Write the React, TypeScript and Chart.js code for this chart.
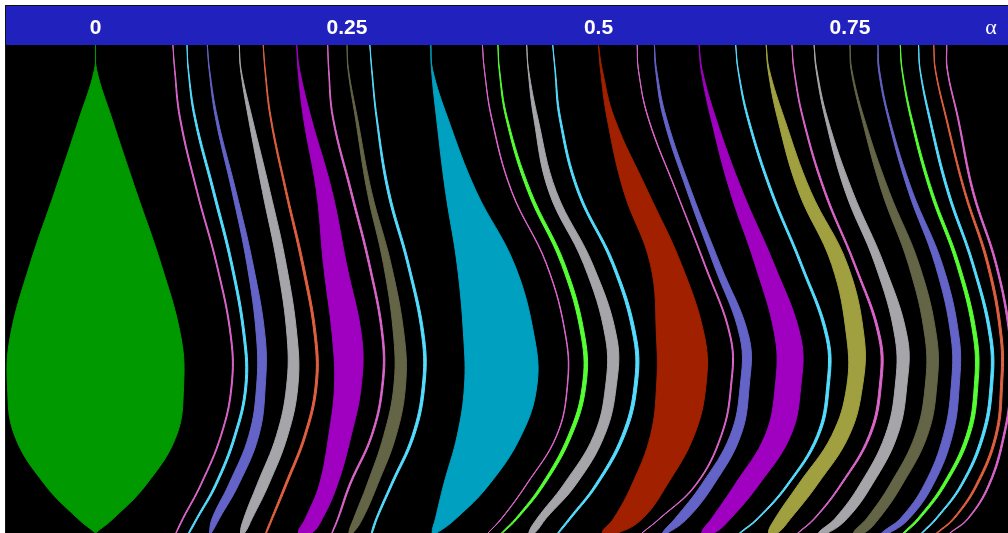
import { useEffect, useRef } from 'react';
import { Chart, registerables } from 'chart.js';

Chart.register(...registerables);

// Coupling levels (top of the plot = 0, bottom = 1) at which each tongue edge was sampled.
const K_LEVELS = [0, 0.05, 0.15, 0.3, 0.45, 0.6, 0.7, 0.8, 0.9, 0.97, 1];

// Frequency-axis ticks and the axis symbol shown at the right end of the top bar.
const TICK_VALUES = [0, 0.25, 0.5, 0.75];
const AXIS_LABEL = 'α';
const AXIS_LABEL_AT = 0.8902;
const X_MIN = -0.089;
const X_MAX = 0.9071;

// Mode-locked tongues, one row per rational winding number.
const TONGUE_NAMES = [
  '0', '1/13', '1/11', '1/9', '1/7', '1/6', '1/5', '3/13', '1/4', '3/11',
  '1/3', '5/13', '2/5', '3/7', '5/11', '1/2', '7/13', '5/9', '3/5', '7/11',
  '2/3', '9/13', '5/7', '3/4', '7/9', '4/5', '9/11', '5/6', '11/13',
];

const PINK = '#DD66CC';
const CYAN = '#55DDFF';
const BLUE = '#6464C8';
const GRAY = '#A5A5AA';
const ORANGE = '#E06040';
const MAGENTA = '#A000C0';
const OLIVE = '#646446';
const LIME = '#55FF33';

const TONGUE_COLORS = [
  '#009A00', PINK, CYAN, BLUE, GRAY, ORANGE, MAGENTA, PINK, OLIVE, CYAN,
  '#00A0C0', PINK, LIME, GRAY, CYAN, '#A02000', PINK, BLUE, MAGENTA, CYAN,
  '#A0A040', PINK, GRAY, OLIVE, BLUE, LIME, CYAN, ORANGE, PINK,
];

// Centre of each tongue (α) at every K level.
const TONGUE_MID = [
  [0, 0, 0, 0, 0, 0, 0, 0, 0, 0, 0],
  [0.0769, 0.0787, 0.0840, 0.1009, 0.1205, 0.1347, 0.1352, 0.1248, 0.1049, 0.0870, 0.0800],
  [0.0909, 0.0922, 0.0989, 0.1173, 0.1354, 0.1480, 0.1494, 0.1387, 0.1198, 0.1009, 0.0929],
  [0.1111, 0.1131, 0.1203, 0.1377, 0.1536, 0.1644, 0.1644, 0.1574, 0.1375, 0.1196, 0.1142],
  [0.1429, 0.1444, 0.1539, 0.1697, 0.1851, 0.1955, 0.1955, 0.1855, 0.1665, 0.1516, 0.1461],
  [0.1667, 0.1685, 0.1742, 0.1894, 0.2060, 0.2187, 0.2192, 0.2083, 0.1894, 0.1755, 0.1695],
  [0.2000, 0.2020, 0.2106, 0.2274, 0.2381, 0.2501, 0.2508, 0.2430, 0.2316, 0.2172, 0.2083],
  [0.2308, 0.2318, 0.2361, 0.2540, 0.2722, 0.2855, 0.2851, 0.2746, 0.2530, 0.2411, 0.2351],
  [0.2500, 0.2512, 0.2594, 0.2722, 0.2901, 0.3018, 0.3023, 0.2927, 0.2753, 0.2612, 0.2538],
  [0.2727, 0.2746, 0.2795, 0.2911, 0.3109, 0.3258, 0.3260, 0.3159, 0.2944, 0.2795, 0.2746],
  [0.3333, 0.3345, 0.3446, 0.3632, 0.3880, 0.4012, 0.4027, 0.3914, 0.3689, 0.3483, 0.3368],
  [0.3846, 0.3865, 0.3938, 0.4137, 0.4485, 0.4677, 0.4690, 0.4585, 0.4286, 0.4038, 0.3902],
  [0.4000, 0.4014, 0.4087, 0.4312, 0.4650, 0.4849, 0.4856, 0.4717, 0.4451, 0.4187, 0.4041],
  [0.4286, 0.4302, 0.4377, 0.4543, 0.4899, 0.5126, 0.5123, 0.5007, 0.4717, 0.4435, 0.4336],
  [0.4545, 0.4568, 0.4617, 0.4799, 0.5147, 0.5363, 0.5368, 0.5247, 0.4982, 0.4717, 0.4600],
  [0.5000, 0.5028, 0.5122, 0.5371, 0.5671, 0.5817, 0.5822, 0.5734, 0.5510, 0.5296, 0.5113],
  [0.5385, 0.5396, 0.5495, 0.5773, 0.6056, 0.6314, 0.6317, 0.6221, 0.5972, 0.5611, 0.5432],
  [0.5556, 0.5572, 0.5661, 0.5903, 0.6178, 0.6453, 0.6453, 0.6362, 0.6088, 0.5824, 0.5661],
  [0.6000, 0.6024, 0.6142, 0.6370, 0.6652, 0.6884, 0.6884, 0.6784, 0.6478, 0.6221, 0.6088],
  [0.6364, 0.6387, 0.6486, 0.6718, 0.7016, 0.7274, 0.7281, 0.7182, 0.6884, 0.6586, 0.6406],
  [0.6667, 0.6691, 0.6813, 0.7049, 0.7397, 0.7555, 0.7546, 0.7406, 0.7083, 0.6834, 0.6735],
  [0.6923, 0.6943, 0.7033, 0.7249, 0.7547, 0.7795, 0.7801, 0.7696, 0.7413, 0.7149, 0.6983],
  [0.7143, 0.7166, 0.7265, 0.7489, 0.7795, 0.8010, 0.8007, 0.7911, 0.7662, 0.7414, 0.7232],
  [0.7500, 0.7514, 0.7629, 0.7853, 0.8135, 0.8305, 0.8305, 0.8209, 0.7961, 0.7729, 0.7588],
  [0.7778, 0.7788, 0.7885, 0.8101, 0.8383, 0.8546, 0.8546, 0.8474, 0.8285, 0.8047, 0.7853],
  [0.8000, 0.8017, 0.8109, 0.8308, 0.8574, 0.8746, 0.8753, 0.8673, 0.8439, 0.8186, 0.8037],
  [0.8182, 0.8196, 0.8292, 0.8474, 0.8723, 0.8899, 0.8905, 0.8822, 0.8613, 0.8360, 0.8216],
  [0.8333, 0.8348, 0.8457, 0.8640, 0.8872, 0.9004, 0.9006, 0.8952, 0.8763, 0.8534, 0.8365],
  [0.8462, 0.8467, 0.8574, 0.8723, 0.8954, 0.9091, 0.9100, 0.9031, 0.8885, 0.8676, 0.8494],
];

// Width of each tongue (α) at every K level.
const TONGUE_WIDTH = [
  [0, 0.003, 0.0333, 0.0818, 0.1315, 0.171, 0.176, 0.162, 0.1024, 0.0368, 0],
  [0.001, 0.0015, 0.002, 0.002, 0.002, 0.002, 0.002, 0.002, 0.002, 0.002, 0.0015],
  [0.001, 0.0015, 0.0025, 0.003, 0.003, 0.003, 0.003, 0.003, 0.003, 0.0025, 0.002],
  [0, 0.0015, 0.003, 0.005, 0.007, 0.0096, 0.0096, 0.0109, 0.0109, 0.0083, 0.0027],
  [0, 0.0015, 0.0047, 0.0085, 0.0099, 0.0109, 0.0122, 0.0122, 0.0125, 0.0093, 0.005],
  [0.001, 0.0015, 0.002, 0.0025, 0.003, 0.003, 0.003, 0.003, 0.003, 0.0025, 0.002],
  [0, 0.0025, 0.0086, 0.0164, 0.0239, 0.0301, 0.0275, 0.0233, 0.0189, 0.0179, 0.0139],
  [0.001, 0.0015, 0.002, 0.0025, 0.0025, 0.0025, 0.0025, 0.0025, 0.0025, 0.002, 0.0015],
  [0, 0.0015, 0.003, 0.0053, 0.0086, 0.0116, 0.0126, 0.0133, 0.0115, 0.0099, 0.005],
  [0.001, 0.0015, 0.002, 0.003, 0.003, 0.0035, 0.0035, 0.0035, 0.003, 0.0025, 0.002],
  [0, 0.002, 0.0122, 0.0315, 0.058, 0.0713, 0.0729, 0.0646, 0.0464, 0.0216, 0.0053],
  [0.001, 0.001, 0.0015, 0.0015, 0.0015, 0.0015, 0.0015, 0.0015, 0.0015, 0.0015, 0.001],
  [0.001, 0.0015, 0.0025, 0.004, 0.0045, 0.0045, 0.0045, 0.0045, 0.004, 0.003, 0.002],
  [0, 0.0015, 0.005, 0.0084, 0.0099, 0.0122, 0.0116, 0.0116, 0.0133, 0.0099, 0.0067],
  [0.001, 0.0015, 0.0025, 0.003, 0.0035, 0.004, 0.004, 0.004, 0.0035, 0.003, 0.002],
  [0, 0.0027, 0.0083, 0.0249, 0.0318, 0.049, 0.05, 0.0444, 0.0361, 0.0298, 0.0162],
  [0.001, 0.001, 0.0015, 0.0015, 0.002, 0.002, 0.002, 0.002, 0.002, 0.0015, 0.001],
  [0, 0.002, 0.004, 0.0053, 0.0074, 0.0099, 0.0099, 0.0115, 0.0133, 0.0132, 0.006],
  [0, 0.002, 0.0058, 0.0132, 0.0199, 0.0264, 0.0264, 0.0264, 0.0249, 0.0199, 0.0133],
  [0.001, 0.0015, 0.0025, 0.003, 0.003, 0.0035, 0.0035, 0.0035, 0.003, 0.0025, 0.002],
  [0, 0.0022, 0.0077, 0.0132, 0.0166, 0.0183, 0.0166, 0.0183, 0.0199, 0.0165, 0.0099],
  [0.001, 0.0015, 0.002, 0.0025, 0.0025, 0.003, 0.003, 0.003, 0.0025, 0.002, 0.0015],
  [0, 0.0018, 0.0033, 0.0083, 0.0099, 0.0132, 0.0125, 0.0132, 0.0132, 0.0132, 0.0099],
  [0, 0.0018, 0.0034, 0.0083, 0.0116, 0.0125, 0.0125, 0.0132, 0.0132, 0.0133, 0.0116],
  [0, 0.002, 0.0025, 0.005, 0.0083, 0.0089, 0.0089, 0.0099, 0.0099, 0.0099, 0.0083],
  [0.001, 0.0015, 0.0025, 0.0035, 0.004, 0.0045, 0.0045, 0.0045, 0.004, 0.0035, 0.0025],
  [0.001, 0.0015, 0.0025, 0.003, 0.003, 0.0035, 0.0035, 0.0035, 0.003, 0.0025, 0.002],
  [0.001, 0.0015, 0.002, 0.0025, 0.003, 0.003, 0.003, 0.003, 0.003, 0.0025, 0.002],
  [0.001, 0.0015, 0.002, 0.0025, 0.0025, 0.0025, 0.0025, 0.0025, 0.0025, 0.002, 0.0015],
];

// The 1px outline stroked round every tongue adds about 0.001 in α to its width.
const OUTLINE = 0.001;
const BAR_COLOR = '#2121BE';

const backdrop = {
  id: 'backdrop',
  beforeDraw(chart: any) {
    const { ctx, chartArea, width, height } = chart;
    ctx.save();
    ctx.fillStyle = '#000';
    ctx.fillRect(0, 0, width, height);
    ctx.fillStyle = BAR_COLOR;
    ctx.fillRect(0, 0, width, chartArea.top);
    ctx.restore();
  },
};

export default function App() {
  const ref = useRef<HTMLCanvasElement>(null);

  useEffect(() => {
    const canvas = ref.current;
    if (!canvas) return;

    const datasets = TONGUE_NAMES.map((name, i) => {
      const mid = TONGUE_MID[i];
      const half = TONGUE_WIDTH[i].map((w) => Math.max(0, w - OUTLINE) / 2);
      const leftEdge = K_LEVELS.map((k, j) => ({ x: mid[j] - half[j], y: k }));
      const rightEdge = K_LEVELS.map((k, j) => ({ x: mid[j] + half[j], y: k })).reverse();
      const color = TONGUE_COLORS[i];
      return {
        label: name,
        data: [...leftEdge, ...rightEdge],
        borderColor: color,
        backgroundColor: color,
        borderWidth: 1,
        borderJoinStyle: 'round' as const,
        fill: 'shape' as const,
        pointRadius: 0,
        pointHoverRadius: 0,
        pointHitRadius: 0,
        tension: 0.4,
      };
    });

    const chart = new Chart(canvas, {
      type: 'line',
      data: { datasets },
      options: {
        responsive: false,
        animation: false,
        devicePixelRatio: 1,
        events: [],
        layout: { padding: 0 },
        plugins: {
          legend: { display: false },
          tooltip: { enabled: false },
        },
        scales: {
          x: {
            type: 'linear',
            position: 'top',
            min: X_MIN,
            max: X_MAX,
            grid: { display: false },
            border: { display: false },
            afterBuildTicks: (scale: any) => {
              scale.ticks = [...TICK_VALUES, AXIS_LABEL_AT].map((value) => ({ value }));
            },
            afterFit: (scale: any) => {
              scale.height = 39;
            },
            ticks: {
              autoSkip: false,
              maxRotation: 0,
              padding: -4,
              color: '#FFFFFF',
              font: (ctx: any) =>
                ctx.tick && ctx.tick.value === AXIS_LABEL_AT
                  ? { family: '"Liberation Serif", serif', size: 22 }
                  : { family: '"Liberation Sans", Arial, sans-serif', size: 21, weight: 'bold' },
              callback: (value: any) => (value === AXIS_LABEL_AT ? AXIS_LABEL : String(value)),
            },
          },
          y: {
            type: 'linear',
            display: false,
            min: 0,
            max: 1,
            reverse: true,
          },
        },
      },
      plugins: [backdrop],
    });

    return () => chart.destroy();
  }, []);

  return (
    <div
      style={{
        position: 'fixed',
        left: 5,
        top: 5,
        width: 1002,
        height: 527,
        borderLeft: '1px solid #111',
        borderTop: '1px solid #111',
        background: '#000',
        overflow: 'hidden',
      }}
    >
      <canvas ref={ref} width={1002} height={527} style={{ display: 'block' }} />
    </div>
  );
}
